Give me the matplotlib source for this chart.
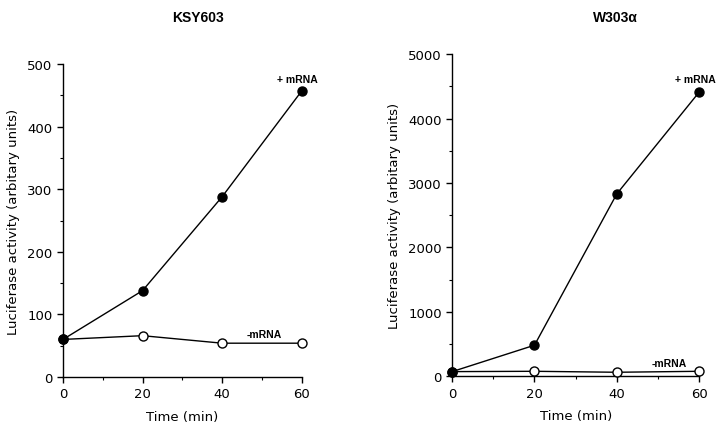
import matplotlib
matplotlib.use("Agg")
import matplotlib.pyplot as plt
from matplotlib.ticker import MultipleLocator

time_min = [0, 20, 40, 60]
ksy_plus = [60, 138, 288, 457]
ksy_minus = [60, 66, 54, 54]
w303_plus = [70, 480, 2830, 4410]
w303_minus = [70, 75, 60, 75]

plt.rcParams['font.family'] = ['DejaVu Sans']
fig = plt.figure(figsize=(7.2, 4.31), dpi=100)

ax1 = fig.add_axes([0.0875, 0.123, 0.3315, 0.726])
ax2 = fig.add_axes([0.628, 0.125, 0.343, 0.747])

def style(ax, ymax, major, minor):
    ax.set_xlim(0, 60)
    ax.set_ylim(0, ymax)
    ax.xaxis.set_major_locator(MultipleLocator(20))
    ax.xaxis.set_minor_locator(MultipleLocator(10))
    ax.yaxis.set_major_locator(MultipleLocator(major))
    ax.yaxis.set_minor_locator(MultipleLocator(minor))
    for s in ['top', 'right']:
        ax.spines[s].set_visible(False)
    for s in ['left', 'bottom']:
        ax.spines[s].set_linewidth(1.0)
    ax.tick_params(which='major', length=4, width=1, labelsize=9.5, direction='out')
    ax.tick_params(which='minor', length=2.5, width=0.8, direction='out')
    ax.set_xlabel('Time (min)', fontsize=9.5, labelpad=7)
    ax.set_ylabel('Luciferase activity (arbitary units)', fontsize=9.5, labelpad=5)

for ax, plus, minus, ymax, major, minor in [
        (ax1, ksy_plus, ksy_minus, 500, 100, 50),
        (ax2, w303_plus, w303_minus, 5000, 1000, 500)]:
    style(ax, ymax, major, minor)
    ax.plot(time_min, minus, '-o', color='black', lw=1, markersize=6.5,
            markerfacecolor='white', markeredgecolor='black', markeredgewidth=1, clip_on=False, zorder=3)
    ax.plot(time_min, plus, '-o', color='black', lw=1, markersize=6.5,
            markerfacecolor='black', clip_on=False, zorder=4)

ax1.text(64, 476, '+ mRNA', ha='right', va='center', fontsize=7.5, fontweight='bold',
         family='Liberation Sans')
ax1.text(55, 68, '-mRNA', ha='right', va='center', fontsize=7.5, fontweight='bold',
         family='Liberation Sans')
ax2.text(64, 4620, '+ mRNA', ha='right', va='center', fontsize=7.5, fontweight='bold',
         family='Liberation Sans')
ax2.text(57, 200, '-mRNA', ha='right', va='center', fontsize=7.5, fontweight='bold',
         family='Liberation Sans')

fig.text(198/720, 1 - 18/431, 'KSY603', ha='center', va='center', fontsize=10,
         fontweight='bold', family='Liberation Sans')
fig.text(615/720, 1 - 18/431, 'W303α', ha='center', va='center', fontsize=10,
         fontweight='bold', family='Liberation Sans')

fig.savefig('out.png', dpi=100)
